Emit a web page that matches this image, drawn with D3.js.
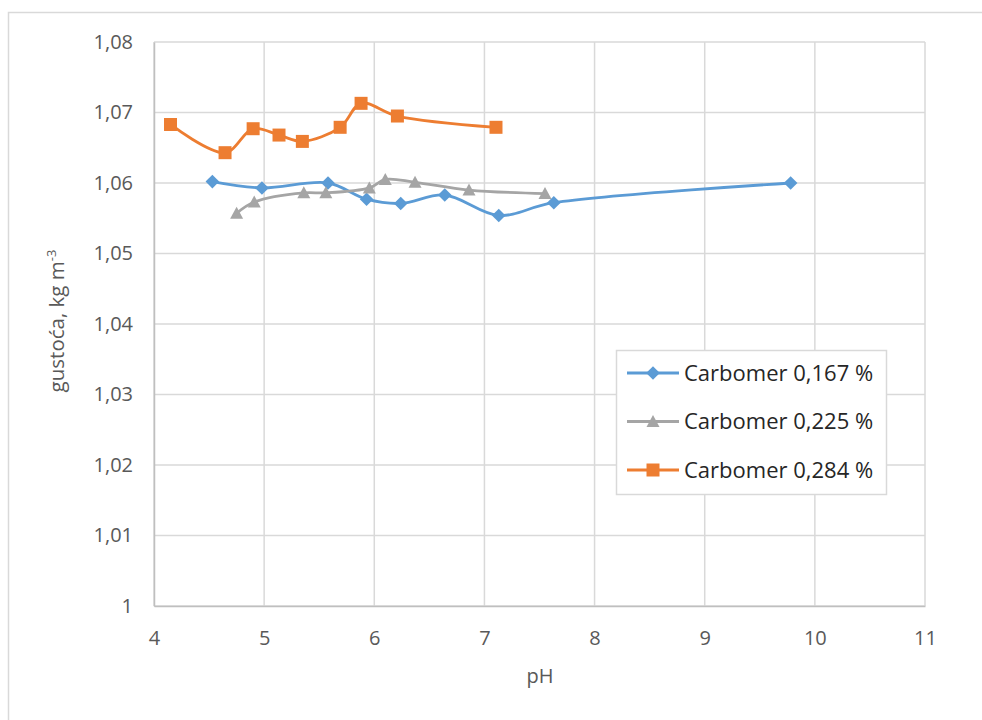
<!DOCTYPE html>
<html><head><meta charset="utf-8">
<script src="https://cdn.jsdelivr.net/npm/d3@7"></script>
<style>body{margin:0;background:#fff;} text{font-family:"Open Sans","Liberation Sans",sans-serif;}</style>
</head><body><svg id="c" width="982" height="720"></svg>
<script>
const xTicks = [4,5,6,7,8,9,10,11];
const yTicks = [1,1.01,1.02,1.03,1.04,1.05,1.06,1.07,1.08];
const seriesNames = ["Carbomer 0,167 %","Carbomer 0,225 %","Carbomer 0,284 %"];
const seriesColors = ["#5b9bd5","#a5a5a5","#ed7d31"];
const seriesMarkers = ["diamond","triangle","square"];
const ph167 = [4.53,4.98,5.58,5.93,6.24,6.64,7.13,7.63,9.78];
const rho167 = [1.0602,1.0593,1.0600,1.0577,1.0571,1.0583,1.0554,1.0572,1.0600];
const ph225 = [4.75,4.91,5.36,5.56,5.955,6.10,6.37,6.86,7.55];
const rho225 = [1.0557,1.0573,1.0586,1.0586,1.0593,1.0605,1.0601,1.0590,1.0585];
const ph284 = [4.15,4.645,4.90,5.135,5.347,5.69,5.88,6.21,7.105];
const rho284 = [1.0683,1.0643,1.0677,1.0668,1.0659,1.0679,1.0713,1.0695,1.0679];

const svg = d3.select("#c");
svg.append("rect").attr("x",8.5).attr("y",12.5).attr("width",1000).attr("height",1000)
  .attr("fill","#fff").attr("stroke","#d9d9d9").attr("stroke-width",1.5);

const x = d3.scaleLinear().domain([4,11]).range([154,925]);
const y = d3.scaleLinear().domain([1,1.08]).range([606,42]);
const fmt = d => d3.format(".2f")(d).replace(/0+$/,"").replace(/\.$/,"").replace(".",",");

const g = svg.append("g");
g.selectAll(".vg").data(xTicks).join("line").attr("x1",d=>x(d)).attr("x2",d=>x(d))
  .attr("y1",y(1)).attr("y2",y(1.08)).attr("stroke","#d9d9d9").attr("stroke-width",1.5);
g.selectAll(".hg").data(yTicks).join("line").attr("x1",x(4)).attr("x2",x(11))
  .attr("y1",d=>y(d)).attr("y2",d=>y(d)).attr("stroke","#d9d9d9").attr("stroke-width",1.5);

const xAxis = svg.append("g").attr("transform",`translate(0,${y(1)})`)
  .call(d3.axisBottom(x).tickValues(xTicks).tickSize(0).tickPadding(25).tickFormat(d=>d));
xAxis.select(".domain").attr("stroke","#bfbfbf").attr("stroke-width",1.5);
xAxis.selectAll("text").attr("font-size",20).attr("fill","#595959");
const yAxis = svg.append("g").attr("transform",`translate(${x(4)},0)`)
  .call(d3.axisLeft(y).tickValues(yTicks).tickSize(0).tickPadding(21).tickFormat(fmt));
yAxis.select(".domain").attr("stroke","#bfbfbf").attr("stroke-width",1.5);
yAxis.selectAll("text").attr("font-size",20).attr("fill","#595959");

svg.append("text").attr("x",540).attr("y",683).attr("text-anchor","middle")
  .attr("font-size",20).attr("fill","#595959").text("pH");
const yt = svg.append("text").attr("transform","translate(64,321) rotate(-90)")
  .attr("text-anchor","middle").attr("font-size",20.5).attr("fill","#595959");
yt.append("tspan").text("gustoća, kg m");
yt.append("tspan").attr("font-size",13).attr("dy",-8).text("-3");

const series = [
  {name:seriesNames[0],color:seriesColors[0],marker:seriesMarkers[0],pts:ph167.map((p,i)=>[p,rho167[i]])},
  {name:seriesNames[1],color:seriesColors[1],marker:seriesMarkers[1],pts:ph225.map((p,i)=>[p,rho225[i]])},
  {name:seriesNames[2],color:seriesColors[2],marker:seriesMarkers[2],pts:ph284.map((p,i)=>[p,rho284[i]])}
];
function marker(sel, s){
  if(s.marker==="diamond"){
    sel.attr("d","M0,-6.8L6.8,0L0,6.8L-6.8,0Z");
  } else if(s.marker==="triangle"){
    sel.attr("d","M0,-6.5L6.5,5.5L-6.5,5.5Z");
  } else {
    sel.attr("d","M-6.5,-6.5H6.5V6.5H-6.5Z");
  }
  sel.attr("fill",s.color);
}
const line = d3.line().x(d=>x(d[0])).y(d=>y(d[1])).curve(d3.curveCatmullRom.alpha(0.5));
series.forEach(s=>{
  svg.append("path").datum(s.pts).attr("d",line).attr("fill","none")
    .attr("stroke",s.color).attr("stroke-width",2.8).attr("stroke-linejoin","round");
  svg.selectAll(null).data(s.pts).join("path")
    .attr("transform",d=>`translate(${x(d[0])},${y(d[1])})`).call(marker,s);
});

const lg = svg.append("g");
lg.append("rect").attr("x",616.5).attr("y",350.5).attr("width",270).attr("height",144)
  .attr("fill","#fff").attr("stroke","#d9d9d9").attr("stroke-width",1.5);
series.forEach((s,i)=>{
  const cy = 373 + i*48.5;
  lg.append("line").attr("x1",627).attr("x2",679).attr("y1",cy).attr("y2",cy)
    .attr("stroke",s.color).attr("stroke-width",2.8);
  lg.append("path").attr("transform",`translate(653,${cy})`).call(marker,s);
  lg.append("text").attr("x",684).attr("y",cy).attr("dy","0.35em")
    .attr("font-size",22).attr("fill","#262626").text(s.name);
});
</script></body></html>
